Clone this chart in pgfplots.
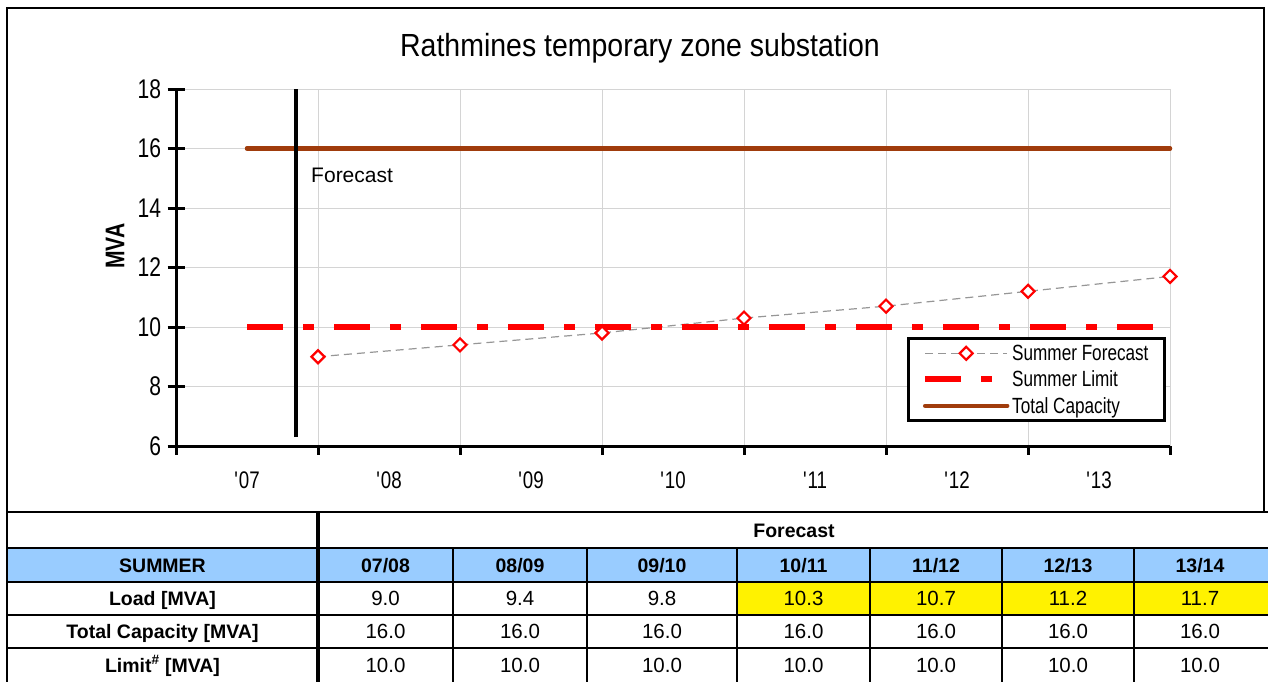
\documentclass[border=0pt]{standalone}
\usepackage{fontspec}
\setmainfont{Liberation Sans}
\newfontfamily\cond[FakeStretch=0.78]{Liberation Sans}
\newfontfamily\ttl[FakeStretch=0.89]{Liberation Sans}
\usepackage{pgfplots}
\pgfplotsset{compat=1.18}

\definecolor{hdrblue}{RGB}{153,204,255}
\definecolor{capbrown}{RGB}{160,60,12}
\definecolor{gridgray}{RGB}{212,212,212}
\definecolor{fcgray}{RGB}{150,150,150}

\begin{document}
\begin{tikzpicture}
% chart: 1pt = 1px of the reference
\begin{axis}[
  at={(176pt,-446pt)}, anchor=south west,
  scale only axis, width=994pt, height=357pt,
  xmin=0, xmax=7, ymin=6, ymax=18,
  clip=false,
  axis x line*=bottom, axis y line*=left,
  axis line style={-, black, line width=3pt},
  xtick={0,...,7}, xticklabels={},
  xmajorticks=false,
  ytick={6,8,...,18},
  tick align=center, major tick length=17pt,
  tick style={black, line width=3pt},
  grid=major, major grid style={gridgray, line width=1pt},
  /pgf/number format/assume math mode=true,
  yticklabel style={font=\cond\fontsize{27}{27}\selectfont, xshift=-3pt},
  legend style={at={(rel axis cs:0.996,0.067)}, anchor=south east,
    draw=black, line width=3pt, fill=white,
    font=\cond\fontsize{22}{22}\selectfont,
    inner xsep=14pt, inner ysep=4pt, row sep=5pt,
    nodes={inner sep=2pt}},
  legend cell align=left,
  legend image code/.code={\draw[mark repeat=2,mark phase=2,#1] plot coordinates {(0pt,0pt) (41pt,0pt) (82pt,0pt)};},
]
% Summer Forecast
\addplot[fcgray, line width=1.2pt, dash pattern=on 8pt off 5pt,
  mark=square*, mark size=4.6pt,
  mark options={solid, rotate=45, draw=red, fill=white, line width=2.2pt}]
  coordinates {(1,9.0) (2,9.4) (3,9.8) (4,10.3) (5,10.7) (6,11.2) (7,11.7)};
\addlegendentry{Summer Forecast}
% Summer Limit
\addplot[red, line width=6pt, dash pattern=on 36pt off 20pt on 11pt off 20pt]
  coordinates {(0.5,10) (6.88,10)};
\addlegendentry{Summer Limit}
% Total Capacity
\addplot[capbrown, line width=4.5pt, line cap=round]
  coordinates {(0.5,16) (7,16)};
\addlegendentry{Total Capacity}
% forecast divider
\addplot[black, line width=4pt, forget plot] coordinates {(0.845,6.3) (0.845,18)};
\node[anchor=base west, inner sep=0, font=\fontsize{21}{21}\selectfont]
  at (axis cs:0.951,14.87) {Forecast};
% x ticks below the axis and the season labels between them
\pgfplotsinvokeforeach{0,...,7}{\draw[black, line width=3pt] (axis cs:#1,6) -- ++(0pt,-9pt);}
\begin{scope}[every node/.style={anchor=base, inner sep=0, yshift=-42pt, font=\cond\fontsize{24}{24}\selectfont}]
\node at (axis cs:0.5,6) {\textquotesingle07};
\node at (axis cs:1.5,6) {\textquotesingle08};
\node at (axis cs:2.5,6) {\textquotesingle09};
\node at (axis cs:3.5,6) {\textquotesingle10};
\node at (axis cs:4.5,6) {\textquotesingle11};
\node at (axis cs:5.5,6) {\textquotesingle12};
\node at (axis cs:6.5,6) {\textquotesingle13};
\end{scope}
\end{axis}

\begin{scope}[x=1pt, y=-1pt]
  % title and y label
  \node[anchor=base, font=\ttl\fontsize{32}{32}\selectfont] at (640,57) {Rathmines temporary zone substation};
  \node[rotate=90, inner sep=0, font=\cond\bfseries\fontsize{27}{27}\selectfont] at (115,246) {MVA};

  % table fills
  \fill[hdrblue] (7,548) rectangle (1268,582);
  \fill[yellow] (737,582) rectangle (1268,615);

  % frame and table rules
  \draw[line width=2.5pt] (7,512) -- (7,8) -- (1264,8) -- (1264,512);
  \draw[line width=2.5pt] (7,682) -- (7,512);
  \foreach \y in {512,548,582,615,648} \draw[line width=2.5pt] (7,\y) -- (1268,\y);
  \foreach \x in {453,587,737,870,1002,1134} \draw[line width=2.5pt] (\x,548) -- (\x,682);
  \draw[line width=4.5pt] (318,512) -- (318,682);

  \begin{scope}[every node/.style={anchor=base, inner sep=0, font=\fontsize{20.5}{20.5}\selectfont}]
    \node[font=\bfseries\fontsize{19.5}{19.5}\selectfont] at (794,537) {Forecast};
    \node[font=\bfseries\fontsize{19.5}{19.5}\selectfont] at (162.5,572) {SUMMER};
    \foreach \x/\a/\b in {385.5/07/08, 520/08/09, 662/09/10, 803.5/10/11, 936/11/12, 1068/12/13, 1200/13/14}
      \node[font=\bfseries\fontsize{19.5}{19.5}\selectfont] at (\x,572) {\a/\b};
    \node[font=\bfseries\fontsize{19.5}{19.5}\selectfont] at (162.5,605.5) {Load [MVA]};
    \node[font=\bfseries\fontsize{19.5}{19.5}\selectfont] at (162.5,638.5) {Total Capacity [MVA]};
    \node[font=\bfseries\fontsize{19.5}{19.5}\selectfont] at (162.5,672) {Limit\textsuperscript{\#} [MVA]};
    \foreach \x/\v in {385.5/9.0, 520/9.4, 662/9.8, 803.5/10.3, 936/10.7, 1068/11.2, 1200/11.7}
      \node at (\x,605.5) {\v};
    \foreach \x/\v in {385.5/16.0, 520/16.0, 662/16.0, 803.5/16.0, 936/16.0, 1068/16.0, 1200/16.0}
      \node at (\x,638.5) {\v};
    \foreach \x/\v in {385.5/10.0, 520/10.0, 662/10.0, 803.5/10.0, 936/10.0, 1068/10.0, 1200/10.0}
      \node at (\x,672) {\v};
  \end{scope}
\end{scope}

\pgfresetboundingbox
\path[use as bounding box] (0pt,0pt) rectangle (1268pt,-682pt);
\end{tikzpicture}
\end{document}
